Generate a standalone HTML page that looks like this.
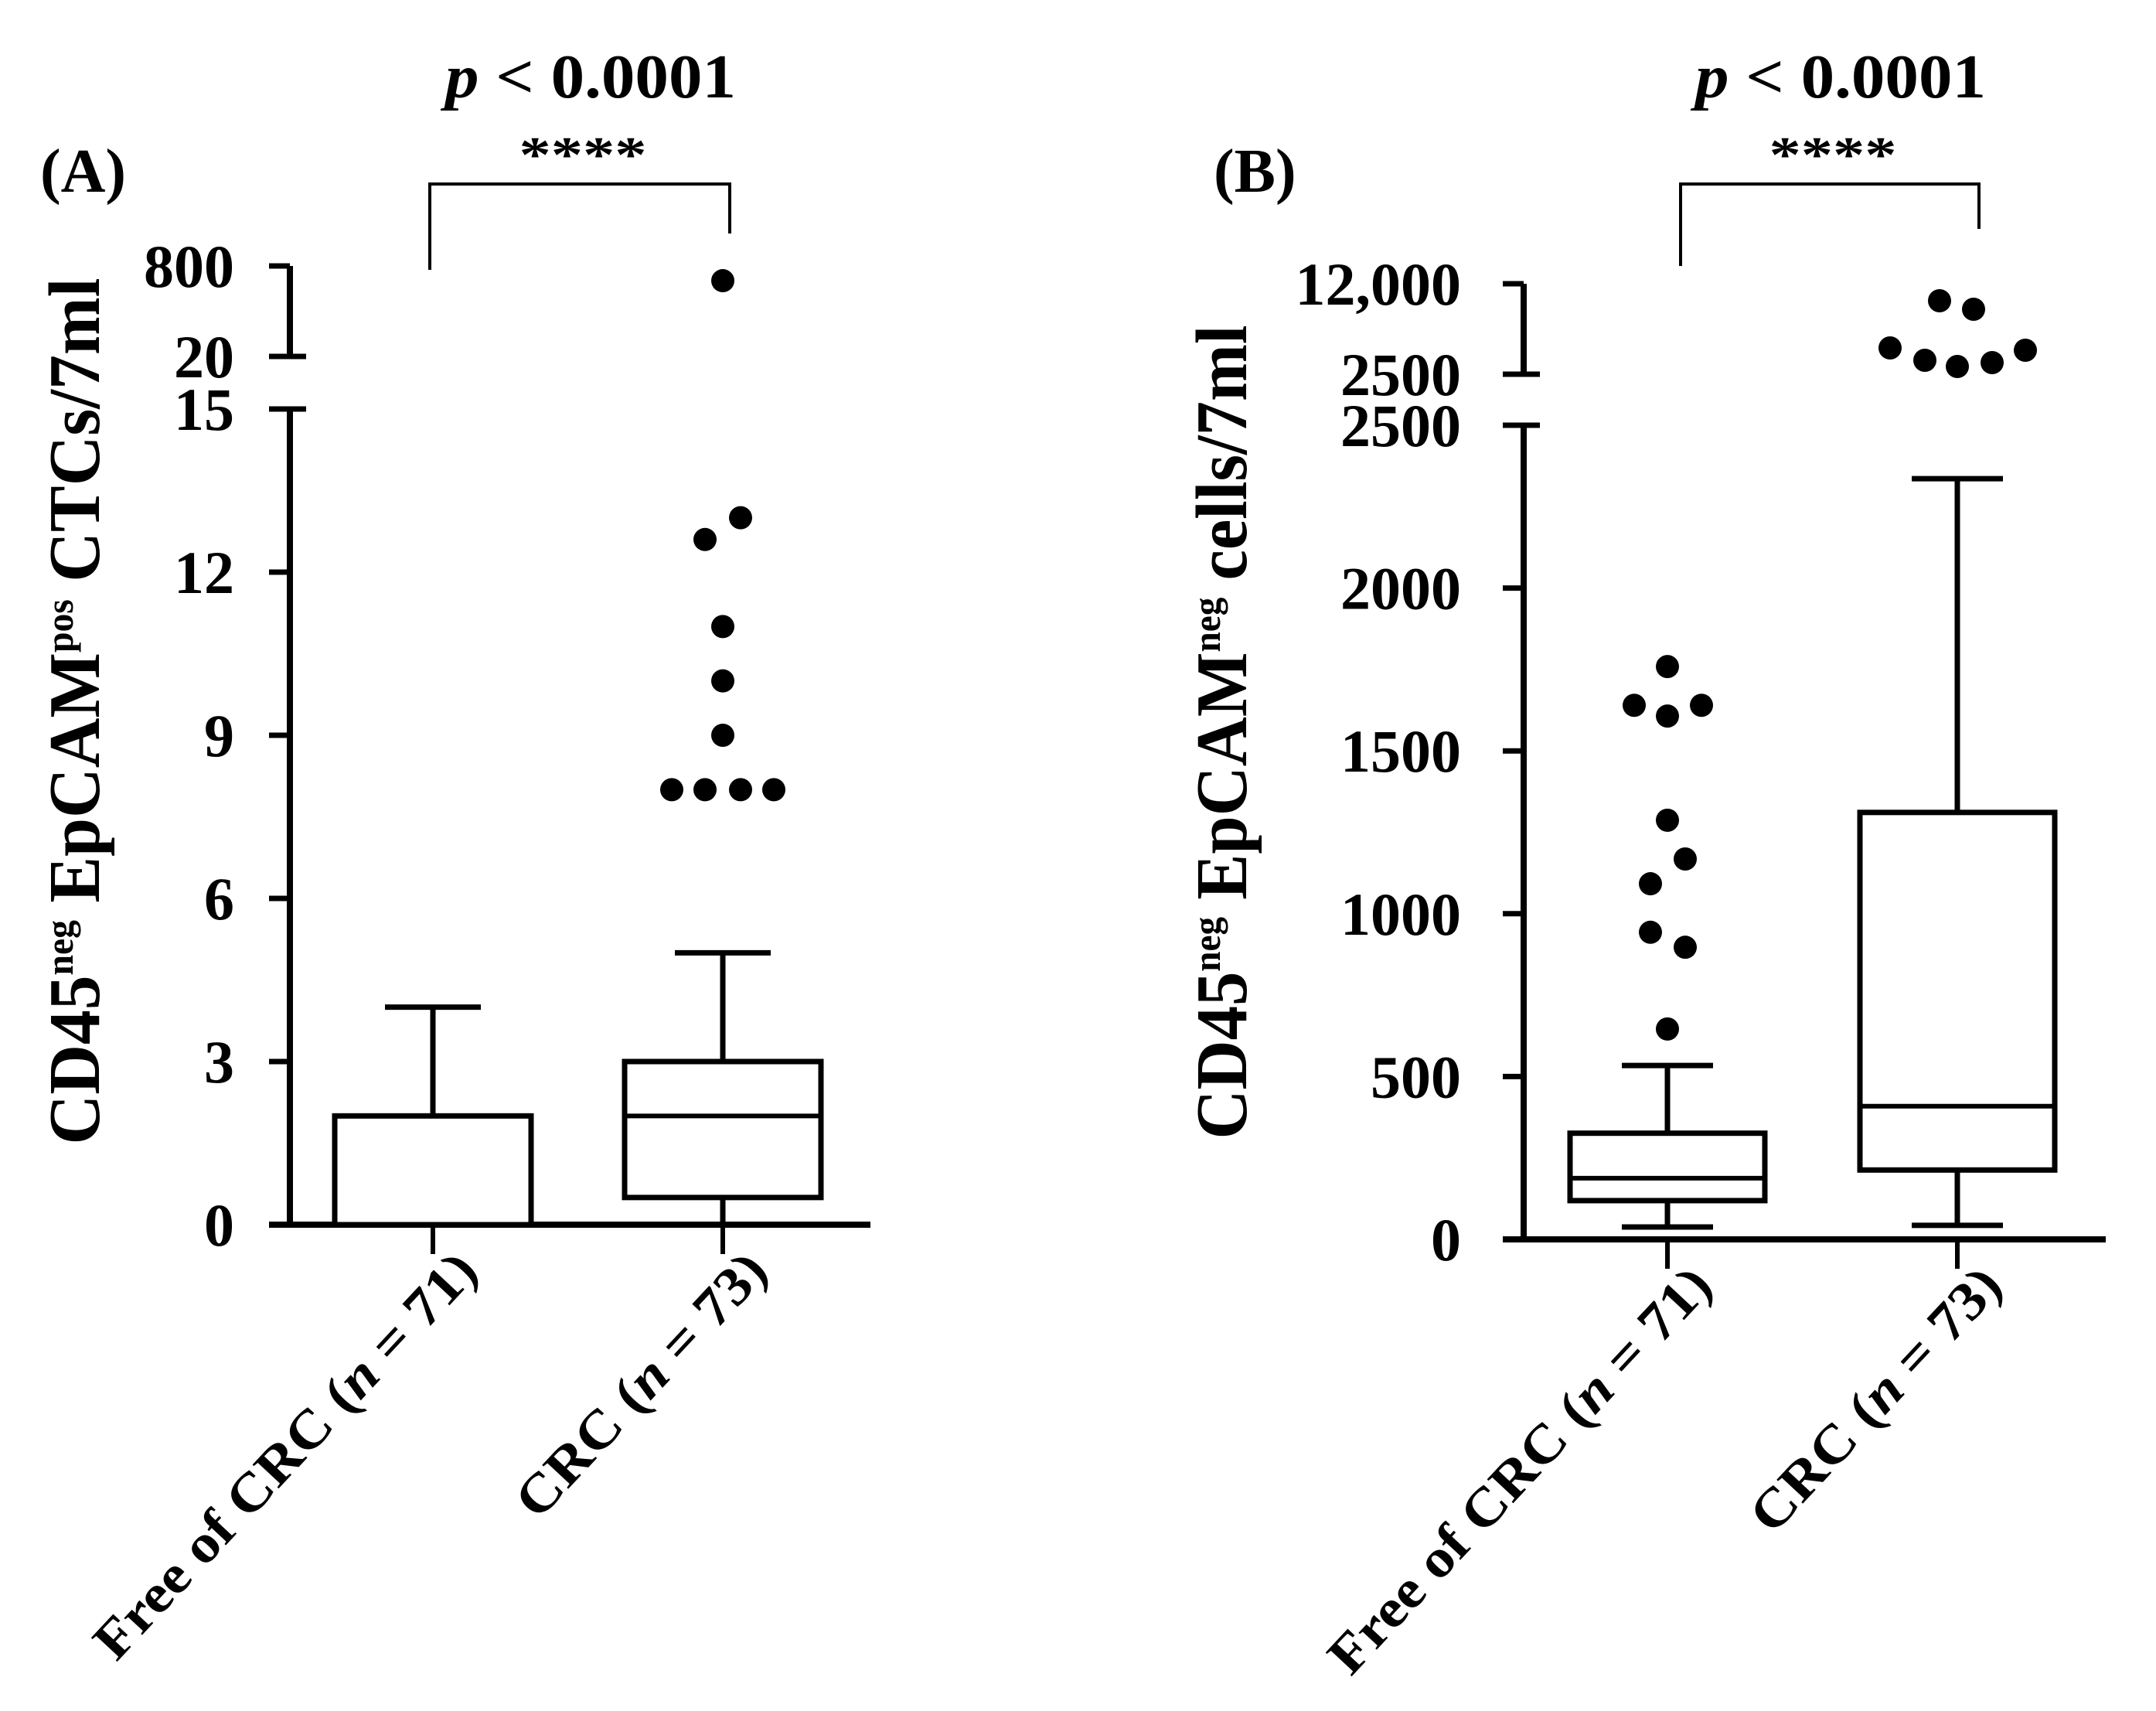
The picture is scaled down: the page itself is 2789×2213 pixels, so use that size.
<!DOCTYPE html>
<html><head><meta charset="utf-8"><style>
html,body{margin:0;padding:0;background:#fff;}
svg{display:block;font-family:"Liberation Serif","Times New Roman",serif;font-weight:bold;}
</style></head><body>
<svg id="chart" width="2789" height="2213" viewBox="0 0 2789 2213" xmlns="http://www.w3.org/2000/svg" font-family="Liberation Serif, serif"></svg>
<script>
// ---- Panel A data ----
const groupsA = ["Free of CRC (n = 71)", "CRC (n = 73)"];
const boxMinA = [0, 0];
const boxQ1A = [0, 0.5];
const boxMedA = [2, 2];
const boxQ3A = [2, 3];
const boxMaxA = [4, 5];
const outlierGroupA = [1, 1, 1, 1, 1, 1, 1, 1, 1];
const outlierValA = [8, 8, 8, 8, 9, 10, 11, 12.6, 13];
const outlierJitterA = [-66, -23, 23, 66, 0, 0, 0, -23, 23];
const outlierHighGroupA = [1];
const outlierHighValA = [673];
const outlierHighJitterA = [0];
const ticksA = [0, 3, 6, 9, 12, 15];
const ticksHighA = [20, 800];
// ---- Panel B data ----
const groupsB = ["Free of CRC (n = 71)", "CRC (n = 73)"];
const boxMinB = [38, 43];
const boxQ1B = [119, 213];
const boxMedB = [188, 409];
const boxQ3B = [326, 1311];
const boxMaxB = [534, 2336];
const outlierGroupB = [0, 0, 0, 0, 0, 0, 0, 0, 0, 0];
const outlierValB = [1759, 1640, 1607, 1640, 1287, 1168, 1092, 943, 897, 646];
const outlierJitterB = [0, -43, 0, 44, 0, 23, -22, -22, 23, 0];
const outlierHighGroupB = [1, 1, 1, 1, 1, 1, 1];
const outlierHighValB = [10214, 9320, 5261, 3962, 3312, 3718, 5017];
const outlierHighJitterB = [-23, 21, -87, -42, 0, 45, 88];
const ticksB = [0, 500, 1000, 1500, 2000, 2500];
const ticksHighB = [2500, 12000];

const NS = "http://www.w3.org/2000/svg";
const svg = document.getElementById("chart");
function mk(tag, attrs, parent) {
  const e = document.createElementNS(NS, tag);
  for (const k in attrs) e.setAttribute(k, attrs[k]);
  (parent || svg).appendChild(e);
  return e;
}
function line(x1, y1, x2, y2, w, p) {
  return mk("line", {x1: x1, y1: y1, x2: x2, y2: y2, stroke: "#000", "stroke-width": w}, p);
}

function panel(cfg) {
  const g = mk("g", {});
  
  
  const y = v => cfg.y0 - (v - cfg.vmin) * (cfg.y0 - cfg.yTop) / (cfg.vmax - cfg.vmin);
  const yH = v => cfg.yhLow - (v - cfg.hmin) * (cfg.yhLow - cfg.yhTop) / (cfg.hmax - cfg.hmin);
  const ax = cfg.axisX;
  const ya = line(ax, cfg.yTop, ax, cfg.y0 + 4, 8, g);
  
  
  const yu = line(ax, cfg.yhTop, ax, cfg.yhLow, 8, g);
  
  
  const xa = line(cfg.xAxis0, cfg.y0, cfg.xAxis1, cfg.y0, 8, g);
  
  
  cfg.ticks.forEach((t, i) => {
    const long = i === cfg.ticks.length - 1;
    const tk = line(cfg.tickX0, y(t), long ? ax + 21 : ax, y(t), 7, g);
    
    
    const tl = mk("text", {x: cfg.labelX, y: y(t) + 27, "text-anchor": "end", "font-size": 78}, g);
    tl.textContent = cfg.tickFmt(t);
    
    
  });
  cfg.ticksHigh.forEach((t, i) => {
    const long = i === 0;
    const tk = line(cfg.tickX0, yH(t), long ? ax + 21 : ax, yH(t), 7, g);
    
    
    const tl = mk("text", {x: cfg.labelX, y: yH(t) + 27, "text-anchor": "end", "font-size": 78}, g);
    tl.textContent = cfg.tickFmt(t);
    
    
  });
  cfg.groups.forEach((name, i) => {
    const cx = cfg.centers[i];
    const xt = line(cx, cfg.y0, cx, cfg.y0 + 38, 6, g);
    
    
    const bg = mk("g", {}, g);
    
    
    const hw = cfg.boxHalf, ch = cfg.capHalf;
    line(cx, y(cfg.q3[i]), cx, y(cfg.max[i]), 7, bg);
    line(cx - ch, y(cfg.max[i]), cx + ch, y(cfg.max[i]), 7, bg);
    if (cfg.min[i] < cfg.q1[i]) {
      line(cx, y(cfg.q1[i]), cx, y(cfg.min[i]), 7, bg);
      if (cfg.min[i] > cfg.vmin) line(cx - ch, y(cfg.min[i]), cx + ch, y(cfg.min[i]), 7, bg);
    }
    mk("rect", {x: cx - hw, y: y(cfg.q3[i]), width: 2 * hw, height: y(cfg.q1[i]) - y(cfg.q3[i]), fill: "#fff", stroke: "#000", "stroke-width": 7}, bg);
    line(cx - hw, y(cfg.med[i]), cx + hw, y(cfg.med[i]), 6, bg);
    const lx = cx + 61, ly = cfg.y0 + 62;
    const len = name.length > 14 ? 690 : 440;
    const xl = mk("text", {x: lx, y: ly, "text-anchor": "end", "font-size": 70, textLength: len, lengthAdjust: "spacingAndGlyphs", transform: "rotate(-47 " + lx + " " + ly + ")"}, g);
    
    
    const pre = name.slice(0, name.indexOf("(n") + 1);
    const post = name.slice(name.indexOf("(n") + 2);
    const t1 = mk("tspan", {}, xl); t1.textContent = pre;
    const t2 = mk("tspan", {"font-style": "italic"}, xl); t2.textContent = "n";
    const t3 = mk("tspan", {}, xl); t3.textContent = post;
  });
  cfg.outVal.forEach((v, i) => {
    const c = mk("circle", {cx: cfg.centers[cfg.outGrp[i]] + cfg.outJit[i], cy: y(v), r: 15, fill: "#000"}, g);
    
    
  });
  cfg.outHVal.forEach((v, i) => {
    const c = mk("circle", {cx: cfg.centers[cfg.outHGrp[i]] + cfg.outHJit[i], cy: yH(v), r: 15, fill: "#000"}, g);
    
    
  });
  const br = mk("path", {d: `M${cfg.br[0]},${cfg.br[2]} L${cfg.br[0]},238 L${cfg.br[1]},238 L${cfg.br[1]},${cfg.br[3]}`, fill: "none", stroke: "#000", "stroke-width": 4}, g);
  
  
  const st = mk("text", {x: (cfg.br[0] + cfg.br[1]) / 2 + 4, y: 222, "text-anchor": "middle", "font-size": 66, textLength: 165, lengthAdjust: "spacingAndGlyphs"}, g);
  st.textContent = "****";
  
  
  const pv = mk("text", {x: cfg.pX, y: 126, "font-size": 80, textLength: cfg.pW, lengthAdjust: "spacingAndGlyphs"}, g);
  
  
  const p1 = mk("tspan", {"font-style": "italic"}, pv); p1.textContent = "p";
  const p2 = mk("tspan", {}, pv); p2.textContent = " < 0.0001";
  const pl = mk("text", {x: cfg.letterX, y: 248, "font-size": 80}, g);
  pl.textContent = cfg.letter;
  
  
  const tx = cfg.titleX, ty = cfg.titleY;
  const yt = mk("text", {x: tx, y: ty, "text-anchor": "middle", "font-size": 94, transform: `rotate(-90 ${tx} ${ty})`, textLength: cfg.titleLen, lengthAdjust: "spacingAndGlyphs"}, g);
  
  
  cfg.title.forEach(seg => {
    const ts = mk("tspan", seg[1] ? {"font-size": 50, dy: -34} : {dy: seg[2] || 0}, yt);
    ts.textContent = seg[0];
  });
}

panel({
  name: "panel-a", letter: "(A)", letterX: 52,
  groups: groupsA, centers: [560, 935],
  min: boxMinA, q1: boxQ1A, med: boxMedA, q3: boxQ3A, max: boxMaxA,
  outVal: outlierValA, outGrp: outlierGroupA, outJit: outlierJitterA,
  outHVal: outlierHighValA, outHGrp: outlierHighGroupA, outHJit: outlierHighJitterA,
  ticks: ticksA, ticksHigh: ticksHighA, tickFmt: t => String(t),
  vmin: 0, vmax: 15, y0: 1584, yTop: 529,
  hmin: 20, hmax: 800, yhLow: 461, yhTop: 344,
  axisX: 375, tickX0: 348, labelX: 303, xAxis0: 348, xAxis1: 1126,
  boxHalf: 127, capHalf: 62,
  br: [556, 944, 349, 302], pX: 576, pW: 376,
  titleX: 128, titleY: 920, titleLen: 1121,
  title: [["CD45"], ["neg", true], [" EpCAM", false, 34], ["pos", true], [" CTCs/7ml", false, 34]]
});
panel({
  name: "panel-b", letter: "(B)", letterX: 1570,
  groups: groupsB, centers: [2157, 2532],
  min: boxMinB, q1: boxQ1B, med: boxMedB, q3: boxQ3B, max: boxMaxB,
  outVal: outlierValB, outGrp: outlierGroupB, outJit: outlierJitterB,
  outHVal: outlierHighValB, outHGrp: outlierHighGroupB, outHJit: outlierHighJitterB,
  ticks: ticksB, ticksHigh: ticksHighB, tickFmt: t => t >= 10000 ? t.toLocaleString("en-US") : String(t),
  vmin: 0, vmax: 2500, y0: 1603, yTop: 550,
  hmin: 2500, hmax: 12000, yhLow: 484, yhTop: 367,
  axisX: 1971, tickX0: 1944, labelX: 1890, xAxis0: 1944, xAxis1: 2724,
  boxHalf: 126, capHalf: 59,
  br: [2174, 2560, 344, 296], pX: 2193, pW: 376,
  titleX: 1612, titleY: 947, titleLen: 1053,
  title: [["CD45"], ["neg", true], [" EpCAM", false, 34], ["neg", true], [" cells/7ml", false, 34]]
});
</script>
</body></html>
